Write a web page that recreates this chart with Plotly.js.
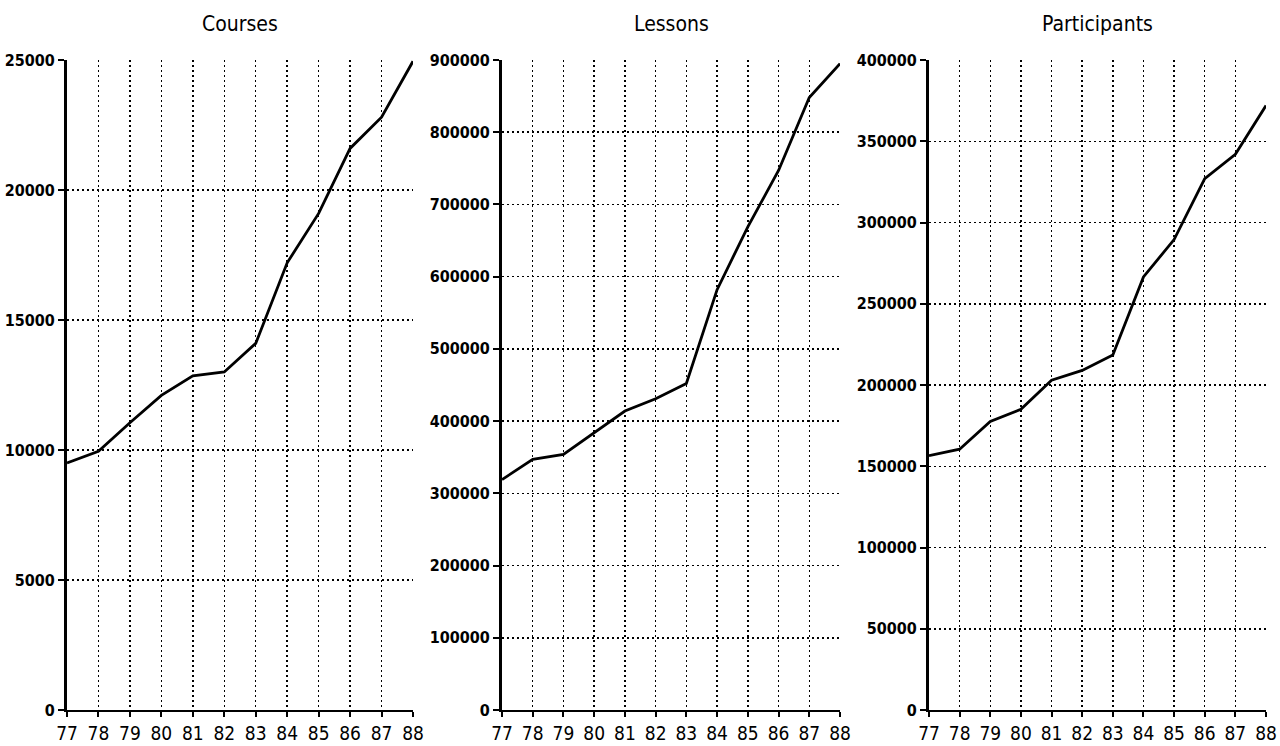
<!DOCTYPE html>
<html>
<head>
<meta charset="utf-8">
<script src="https://cdn.plot.ly/plotly-3.0.1.min.js"></script>
<style>
  html, body { margin: 0; padding: 0; background: #fff; }
  #chart { width: 1280px; height: 746px; }
</style>
</head>
<body>
<div id="chart"></div>
<script>
// ---- data ----
const years = [77, 78, 79, 80, 81, 82, 83, 84, 85, 86, 87, 88];
const yearLabels = ['77', '78', '79', '80', '81', '82', '83', '84', '85', '86', '87', '88'];
const panelTitles = ['Courses', 'Lessons', 'Participants'];

const courses = [9500, 9950, 11050, 12100, 12850, 13000, 14100, 17200, 19100, 21600, 22800, 24950];
const lessons = [319000, 347000, 354000, 384000, 414000, 431000, 452000, 582000, 669000, 747000, 848000, 895000];
const participants = [156500, 160500, 177500, 185000, 203000, 209000, 218500, 266500, 289500, 327000, 342000, 372000];

const coursesTicks = [0, 5000, 10000, 15000, 20000, 25000];
const lessonsTicks = [0, 100000, 200000, 300000, 400000, 500000, 600000, 700000, 800000, 900000];
const participantsTicks = [0, 50000, 100000, 150000, 200000, 250000, 300000, 350000, 400000];

const FONT = '"DejaVu Sans Condensed", "DejaVu Sans", sans-serif';
const W = 1280;
const domains = [[67 / W, 413 / W], [502 / W, 840 / W], [929 / W, 1266 / W]];
const series = [courses, lessons, participants];
const yTicks = [coursesTicks, lessonsTicks, participantsTicks];
const yMax = [25000, 900000, 400000];

const traces = series.map((s, i) => ({
  x: years,
  y: s,
  type: 'scatter',
  mode: 'lines',
  line: { color: '#000', width: 2.8 },
  xaxis: i === 0 ? 'x' : 'x' + (i + 1),
  yaxis: i === 0 ? 'y' : 'y' + (i + 1),
  hoverinfo: 'skip',
  showlegend: false
}));

const layout = {
  width: 1280,
  height: 746,
  margin: { l: 0, r: 0, t: 60, b: 36 },
  paper_bgcolor: '#fff',
  plot_bgcolor: '#fff',
  showlegend: false,
  annotations: []
};

for (let i = 0; i < 3; i++) {
  const sx = i === 0 ? '' : String(i + 1);
  layout['xaxis' + sx] = {
    domain: domains[i],
    anchor: 'y' + sx,
    range: [77, 88],
    tickvals: years,
    ticktext: yearLabels,
    showgrid: true,
    gridcolor: '#000',
    griddash: '2px,3px',
    gridwidth: 1.5,
    showline: true,
    linecolor: '#000',
    linewidth: 2,
    ticks: 'outside',
    ticklen: 5,
    tickcolor: '#000',
    tickwidth: 2,
    zeroline: false,
    tickfont: { family: FONT, size: 19, color: '#000' },
    fixedrange: true
  };
  layout['yaxis' + sx] = {
    domain: [0, 1],
    anchor: 'x' + sx,
    range: [0, yMax[i]],
    tickvals: yTicks[i],
    ticktext: yTicks[i].map(v => String(v)),
    showgrid: true,
    gridcolor: '#000',
    griddash: '2px,3px',
    gridwidth: 1.5,
    showline: true,
    linecolor: '#000',
    linewidth: 3,
    ticks: 'outside',
    ticklen: 6,
    tickcolor: '#000',
    tickwidth: 2,
    zeroline: false,
    tickfont: { family: FONT, size: 16, weight: 'bold', color: '#000' },
    fixedrange: true
  };
  layout.annotations.push({
    text: panelTitles[i],
    xref: 'paper',
    yref: 'paper',
    x: (domains[i][0] + domains[i][1]) / 2,
    y: 1,
    yshift: 36,
    xanchor: 'center',
    yanchor: 'middle',
    showarrow: false,
    font: { family: FONT, size: 21, color: '#000' }
  });
}

Plotly.newPlot('chart', traces, layout, { staticPlot: true, displayModeBar: false });
</script>
</body>
</html>
